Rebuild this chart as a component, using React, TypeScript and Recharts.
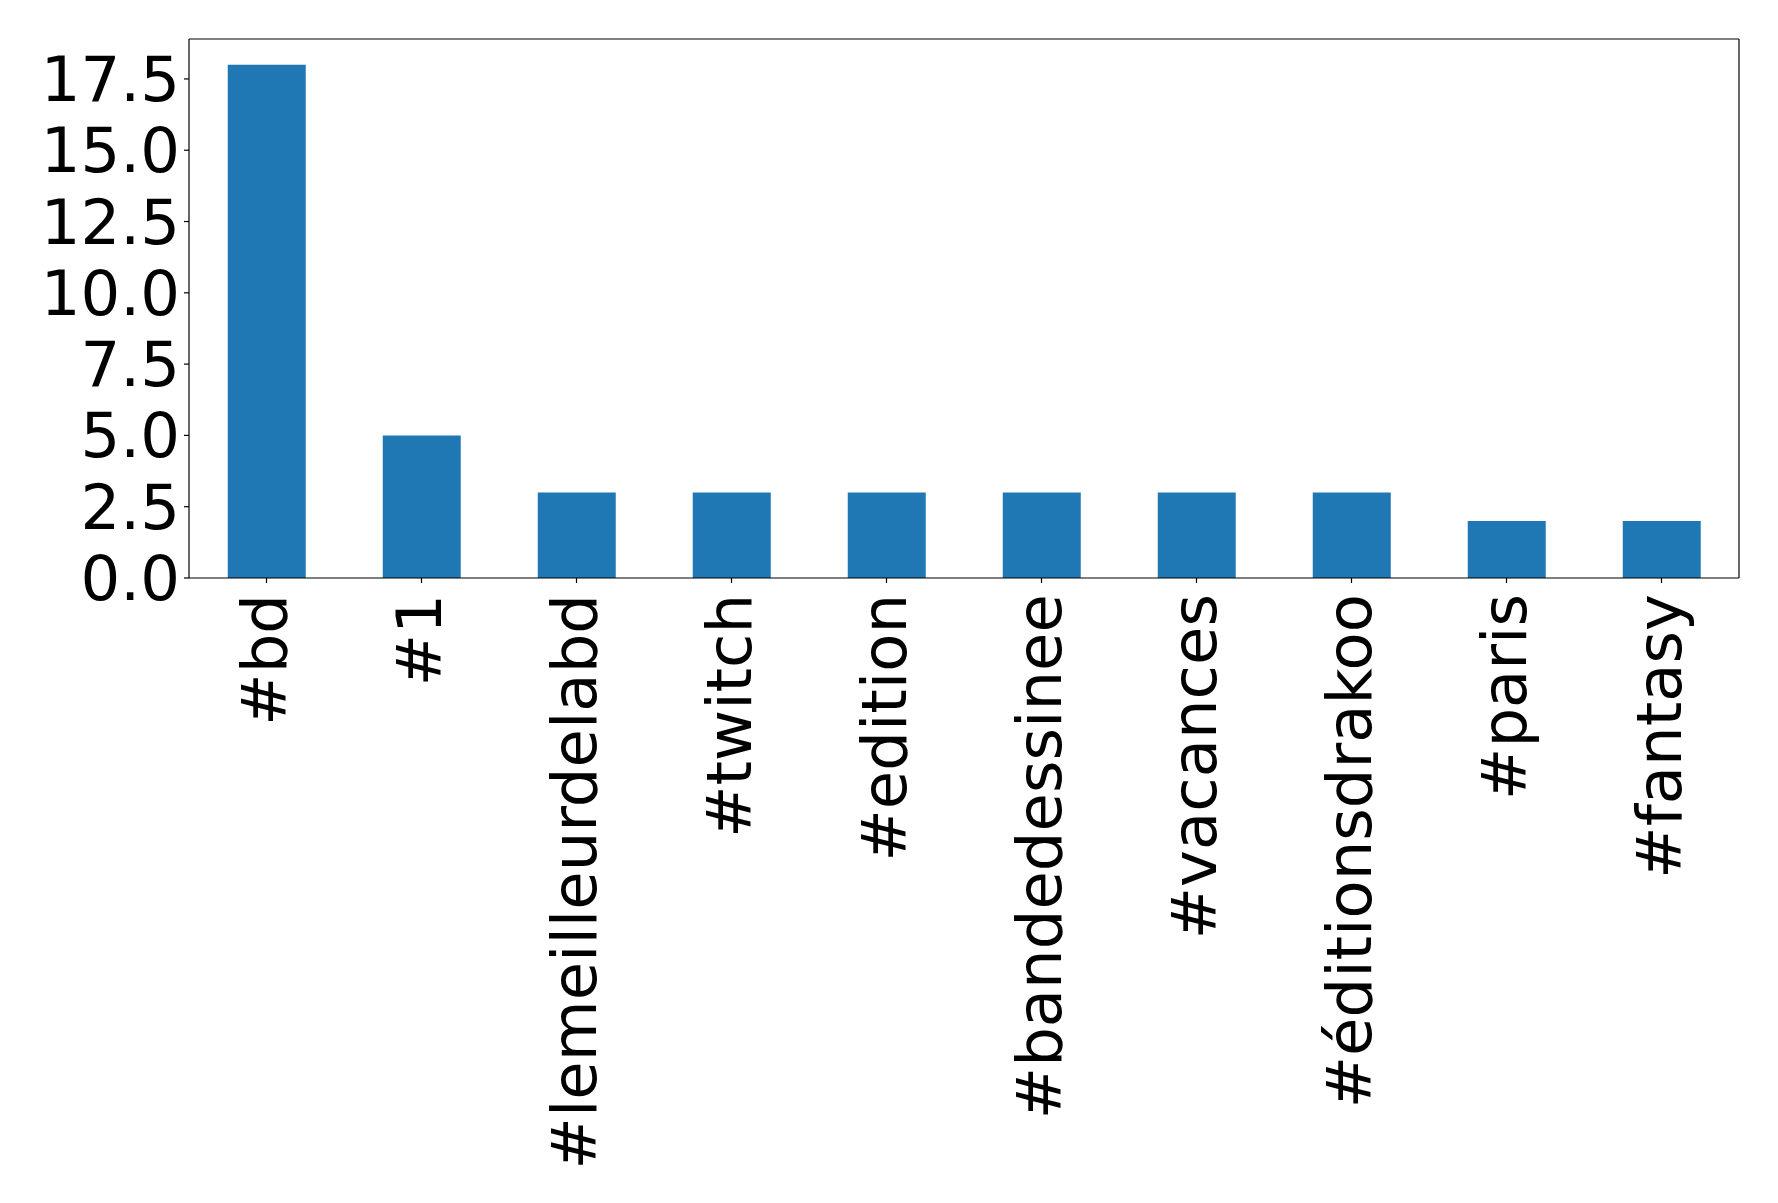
import React from "react";
import { BarChart, Bar, XAxis, YAxis } from "recharts";

const hashtags = [
  "#bd",
  "#1",
  "#lemeilleurdelabd",
  "#twitch",
  "#edition",
  "#bandedessinee",
  "#vacances",
  "#éditionsdrakoo",
  "#paris",
  "#fantasy",
];
const counts = [18, 5, 3, 3, 3, 3, 3, 3, 2, 2];
const yTicks = [0, 2.5, 5, 7.5, 10, 12.5, 15, 17.5];

const data = hashtags.map((tag, i) => ({ tag, count: counts[i] }));

const FONT = "DejaVu Sans";
const FONT_SIZE = 62.5;
const Y_MAX = 18.9;

const XTick = (props: any) => {
  const { x, y, payload } = props;
  const ty = y + 9;
  return (
    <g>
      <text
        x={x}
        y={ty}
        transform={`rotate(-90, ${x}, ${ty})`}
        textAnchor="end"
        dy={19}
        fontFamily={FONT}
        fontSize={FONT_SIZE}
        fill="#000"
      >
        {payload.value}
      </text>
    </g>
  );
};

const YTick = (props: any) => {
  const { x, y, payload } = props;
  return (
    <text
      x={x - 2}
      y={y}
      dy={22}
      textAnchor="end"
      fontFamily={FONT}
      fontSize={FONT_SIZE}
      fill="#000"
    >
      {payload.value.toFixed(1)}
    </text>
  );
};

export default function App() {
  return (
    <div style={{ position: "absolute", left: 0, top: 0, background: "#fff" }}>
      <BarChart
        width={1778}
        height={1203}
        data={data}
        margin={{ top: 38, right: 38, bottom: 25, left: 9 }}
        barCategoryGap="25%"
      >
        <XAxis
          dataKey="tag"
          xAxisId={0}
          interval={0}
          height={600}
          stroke="#000"
          axisLine={{ stroke: "#000", strokeWidth: 1.2 }}
          tickLine={{ stroke: "#000", strokeWidth: 1.2 }}
          tickSize={5}
          tick={<XTick />}
        />
        <XAxis
          dataKey="tag"
          xAxisId="top"
          orientation="top"
          height={1}
          stroke="#000"
          tick={false}
          tickLine={false}
          axisLine={{ stroke: "#000", strokeWidth: 1.2 }}
        />
        <YAxis
          yAxisId={0}
          width={180}
          domain={[0, Y_MAX]}
          ticks={yTicks}
          allowDataOverflow
          stroke="#000"
          axisLine={{ stroke: "#000", strokeWidth: 1.2 }}
          tickLine={{ stroke: "#000", strokeWidth: 1.2 }}
          tickSize={5}
          tick={<YTick />}
        />
        <YAxis
          yAxisId="right"
          orientation="right"
          width={1}
          domain={[0, Y_MAX]}
          stroke="#000"
          tick={false}
          tickLine={false}
          axisLine={{ stroke: "#000", strokeWidth: 1.2 }}
        />
        <Bar
          dataKey="count"
          xAxisId={0}
          yAxisId={0}
          fill="#1f77b4"
          isAnimationActive={false}
        />
        {/* empty series that keeps the top and right frame axes active */}
        <Bar
          dataKey="frame"
          xAxisId="top"
          yAxisId="right"
          fill="none"
          legendType="none"
          isAnimationActive={false}
        />
      </BarChart>
    </div>
  );
}
